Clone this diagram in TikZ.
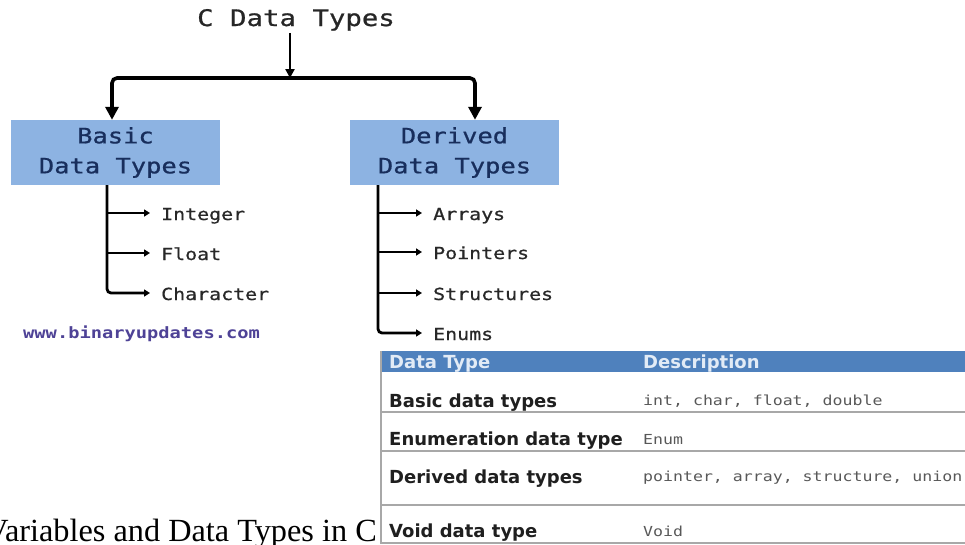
\documentclass[tikz,border=0pt]{standalone}
\usepackage{fontspec}
\usetikzlibrary{arrows.meta}
\setmainfont{Liberation Serif}
\newfontfamily\codefont[FakeStretch=1.2]{DejaVu Sans Mono}
\newfontfamily\codeheavy[FakeStretch=1.2,FakeBold=0.8]{DejaVu Sans Mono}
\newfontfamily\gridfont{DejaVu Sans}
\definecolor{boxblue}{RGB}{141,179,226}
\definecolor{boxink}{RGB}{24,46,92}
\definecolor{headblue}{RGB}{79,129,189}
\definecolor{headink}{RGB}{226,235,246}
\definecolor{urlink}{RGB}{78,66,150}
\definecolor{leafink}{RGB}{40,40,40}
\definecolor{valink}{RGB}{88,88,88}
\definecolor{rulegray}{RGB}{168,168,168}
\begin{document}
\begin{tikzpicture}[x=1pt,y=-1pt,
  titletext/.style={font=\codeheavy\fontsize{22.8}{27}\selectfont, text=black!85, inner sep=2pt},
  typebox/.style={fill=boxblue, text=boxink, minimum width=209pt, minimum height=65pt,
    align=center, inner sep=0pt, font=\codeheavy\fontsize{21.2}{30}\selectfont},
  leaflabel/.style={anchor=base west, inner sep=0pt, text=leafink,
    font=\codeheavy\fontsize{16.6}{20}\selectfont},
  mainline/.style={line width=3.6pt, rounded corners=5pt, -{Triangle[width=13pt,length=13pt]}},
  titlearrow/.style={line width=2.4pt, -{Triangle[width=9pt,length=9pt]}},
  childline/.style={line width=2.8pt, rounded corners=4pt,
    -{Triangle[width=7pt,length=6pt]}, shorten >=11pt},
  urltext/.style={anchor=base west, inner sep=0pt, text=urlink,
    font=\codefont\bfseries\fontsize{15.6}{19}\selectfont},
  tabhead/.style={anchor=base west, inner sep=0pt, text=headink,
    font=\gridfont\bfseries\fontsize{18}{22}\selectfont},
  tabkey/.style={anchor=base west, inner sep=0pt, text=black!88,
    font=\gridfont\bfseries\fontsize{18}{22}\selectfont},
  tabval/.style={anchor=base west, inner sep=0pt, text=valink,
    font=\codefont\fontsize{13.8}{17}\selectfont},
  rowrule/.style={draw=rulegray, line width=1.4pt},
  captiontext/.style={anchor=base east, inner sep=0pt, text=black,
    font=\fontsize{32.3}{37}\selectfont}
]
\useasboundingbox (0,0) rectangle (965,544);
\clip (0,0) rectangle (965,544);

% ---- tree of C data types ----
\node[titletext, anchor=base] (title) at (296,26) {C Data Types};
\coordinate (split) at (290,78);
\coordinate (bx) at (112,0);
\coordinate (dx) at (475,0);

\node[typebox] (basic) at (115.5,152.5) {Basic\\Data Types};
\node[typebox] (derived) at (454.5,152.5) {Derived\\Data Types};

\draw[titlearrow] (title.south -| split) -- (split);
\draw[mainline] (split) -| (basic.north -| bx);
\draw[mainline] (split) -| (derived.north -| dx);

% basic branch
\node[leaflabel] (int) at (161,220) {Integer};
\node[leaflabel] (flt) at (161,260) {Float};
\node[leaflabel] (chr) at (161,300) {Character};
\coordinate (btrunk) at (107,0);
\coordinate (intp) at ([yshift=7pt]int.base west);
\coordinate (fltp) at ([yshift=7pt]flt.base west);
\coordinate (chrp) at ([yshift=7pt]chr.base west);
\draw[childline] (basic.south -| btrunk) |- (chrp);
\draw[childline] (intp -| btrunk) -- (intp);
\draw[childline] (fltp -| btrunk) -- (fltp);

\node[urltext] (url) at (23,338) {www.binaryupdates.com};

% derived branch
\node[leaflabel] (arr) at (433,220) {Arrays};
\node[leaflabel] (ptr) at (433,259) {Pointers};
\node[leaflabel] (str) at (433,300) {Structures};
\node[leaflabel] (enm) at (433,340) {Enums};
\coordinate (dtrunk) at (378,0);
\coordinate (arrp) at ([yshift=7pt]arr.base west);
\coordinate (ptrp) at ([yshift=7pt]ptr.base west);
\coordinate (strp) at ([yshift=7pt]str.base west);
\coordinate (enmp) at ([yshift=7pt]enm.base west);
\draw[childline] (derived.south -| dtrunk) |- (enmp);
\draw[childline] (arrp -| dtrunk) -- (arrp);
\draw[childline] (ptrp -| dtrunk) -- (ptrp);
\draw[childline] (strp -| dtrunk) -- (strp);

% ---- table of data types ----
\fill[headblue] (381,351) rectangle (965,372);
\draw[rulegray, line width=1.2pt] (381,351) -- (381,544);
\foreach \ry in {412,451,505,543}
  \draw[rowrule] (381,\ry) -- (965,\ry);

\node[tabhead] (hkey) at (389,368) {Data Type};
\node[tabhead] (hval) at (643,368) {Description};
\node[tabkey] (k1) at (389,407) {Basic data types};
\node[tabval] (v1) at (643,405) {int, char, float, double};
\node[tabkey] (k2) at (389,445) {Enumeration data type};
\node[tabval] (v2) at (643,444) {Enum};
\node[tabkey] (k3) at (389,483) {Derived data types};
\node[tabval] (v3) at (643,481) {pointer, array, structure, union};
\node[tabkey] (k4) at (389,537) {Void data type};
\node[tabval] (v4) at (643,536) {Void};

% ---- caption ----
\node[captiontext] (caption) at (377,541) {Variables and Data Types in C};
\end{tikzpicture}
\end{document}
